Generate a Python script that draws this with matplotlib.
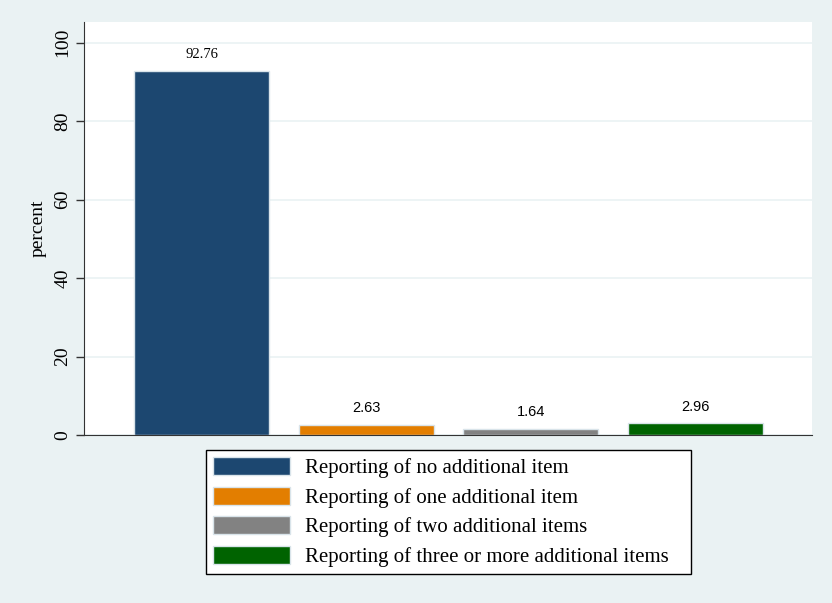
import matplotlib.pyplot as plt

labels = ["Reporting of no additional item",
          "Reporting of one additional item",
          "Reporting of two additional items",
          "Reporting of three or more additional items"]
values = [92.76, 2.63, 1.64, 2.96]
colors = ["#1C4770", "#E37E00", "#828282", "#006300"]
yticks = [0, 20, 40, 60, 80, 100]

plt.rcParams['font.family'] = ['Liberation Serif', 'DejaVu Serif']

fig = plt.figure(figsize=(8.32, 6.03), dpi=100, facecolor="#EAF2F3")
ax = fig.add_axes([0.101, 0.2786, 0.875, 0.685])
ax.set_facecolor("white")

for i, (lab, v, c) in enumerate(zip(labels, values, colors)):
    ax.bar(i, v, width=0.82, color=c, edgecolor="#D9E4EA", linewidth=1.0, label=lab, zorder=2)
    ax.text(i, v + 2.5, f"{v:.2f}", ha="center", va="bottom", fontsize=10.5,
            family=['Liberation Sans', 'DejaVu Sans'] if i > 0 else None)

ax.set_xlim(-0.714, 3.708)
ax.set_ylim(0, 105.3)
ax.set_yticks(yticks)
ax.set_yticklabels([str(t) for t in yticks], rotation=90, va="center", fontsize=14)
ax.set_xticks([])
ax.yaxis.grid(True, color="#EAF2F3", linewidth=1.2, zorder=0)
ax.set_axisbelow(True)
ax.set_ylabel("percent", fontsize=14, labelpad=6)
ax.tick_params(axis="y", length=6, width=1, color="#333333", pad=3)
for s in ["top", "right"]:
    ax.spines[s].set_visible(False)
ax.spines["left"].set_color("#333333")
ax.spines["bottom"].set_color("#333333")

leg = fig.legend(loc="upper left", bbox_to_anchor=(206 / 832, 153 / 603, 485 / 832, 0.0),
                 mode="expand", ncol=1,
                 fontsize=15, frameon=True, fancybox=False, edgecolor="black",
                 framealpha=1.0, handlelength=3.7, handleheight=0.95,
                 labelspacing=0.4, borderpad=0.35, handletextpad=0.7,
                 borderaxespad=0.0)
leg.get_frame().set_linewidth(1.0)

fig.savefig("out.png", dpi=100, facecolor=fig.get_facecolor())
